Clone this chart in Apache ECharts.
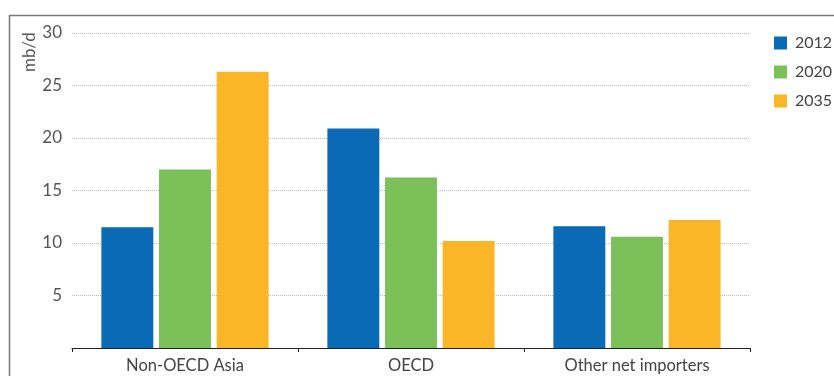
<!DOCTYPE html>
<html><head><meta charset="utf-8">
<script src="https://cdn.jsdelivr.net/npm/echarts@6/dist/echarts.min.js"></script>
<style>html,body{margin:0;padding:0;background:#fff}#c{width:834px;height:376px}</style>
</head><body><div id="c"></div>
<script>
const categories = ['Non-OECD Asia', 'OECD', 'Other net importers'];
const seriesNames = ['2012', '2020', '2035'];
const v2012 = [11.5, 20.9, 11.6];
const v2020 = [17.0, 16.25, 10.6];
const v2035 = [26.3, 10.2, 12.2];
const yTicks = [0, 5, 10, 15, 20, 25, 30];
const colors = ['#0a6ab5', '#7cc05a', '#fbb627'];
const font = 'Lato, "Open Sans", sans-serif';
const chart = echarts.init(document.getElementById('c'));
const vals = [v2012, v2020, v2035];
chart.setOption({
  animation: false,
  graphic: [
    {type: 'line', shape: {x1: 9, y1: 15.5, x2: 834, y2: 15.5}, style: {stroke: '#777', lineWidth: 1.5}},
    {type: 'line', shape: {x1: 9.5, y1: 15, x2: 9.5, y2: 376}, style: {stroke: '#777', lineWidth: 1.5}},
    {type: 'text', x: 21, y: 72, rotation: Math.PI/2,
     style: {text: 'mb/d', fontSize: 17, fontFamily: font, fill: '#555', textAlign: 'left', textVerticalAlign: 'top'}}
  ],
  legend: {
    orient: 'vertical', left: 769, top: 30, itemWidth: 13, itemHeight: 13, itemGap: 13,
    icon: 'rect', textStyle: {fontFamily: font, fontSize: 16, color: '#444', padding: [0, 0, 0, 3]},
    data: seriesNames
  },
  grid: {left: 72, right: 84, top: 33, bottom: 28},
  xAxis: {
    type: 'category', data: categories,
    axisLine: {lineStyle: {color: '#222', width: 1}},
    axisTick: {show: true, length: 4, lineStyle: {color: '#222'}},
    axisLabel: {fontFamily: font, fontSize: 16.5, color: '#444', margin: 9}
  },
  yAxis: {
    type: 'value', min: yTicks[0], max: yTicks[yTicks.length-1], interval: 5,
    axisLine: {show: false}, axisTick: {show: false},
    axisLabel: {fontFamily: font, fontSize: 17, color: '#555', margin: 10,
      formatter: v => v === 0 ? '' : String(v)},
    splitLine: {lineStyle: {color: '#bbb', type: 'dotted', width: 1}}
  },
  series: seriesNames.map((n, i) => ({
    name: n, type: 'bar', data: vals[i],
    itemStyle: {color: colors[i]},
    barGap: '11%', barCategoryGap: '26%'
  }))
});
</script></body></html>
